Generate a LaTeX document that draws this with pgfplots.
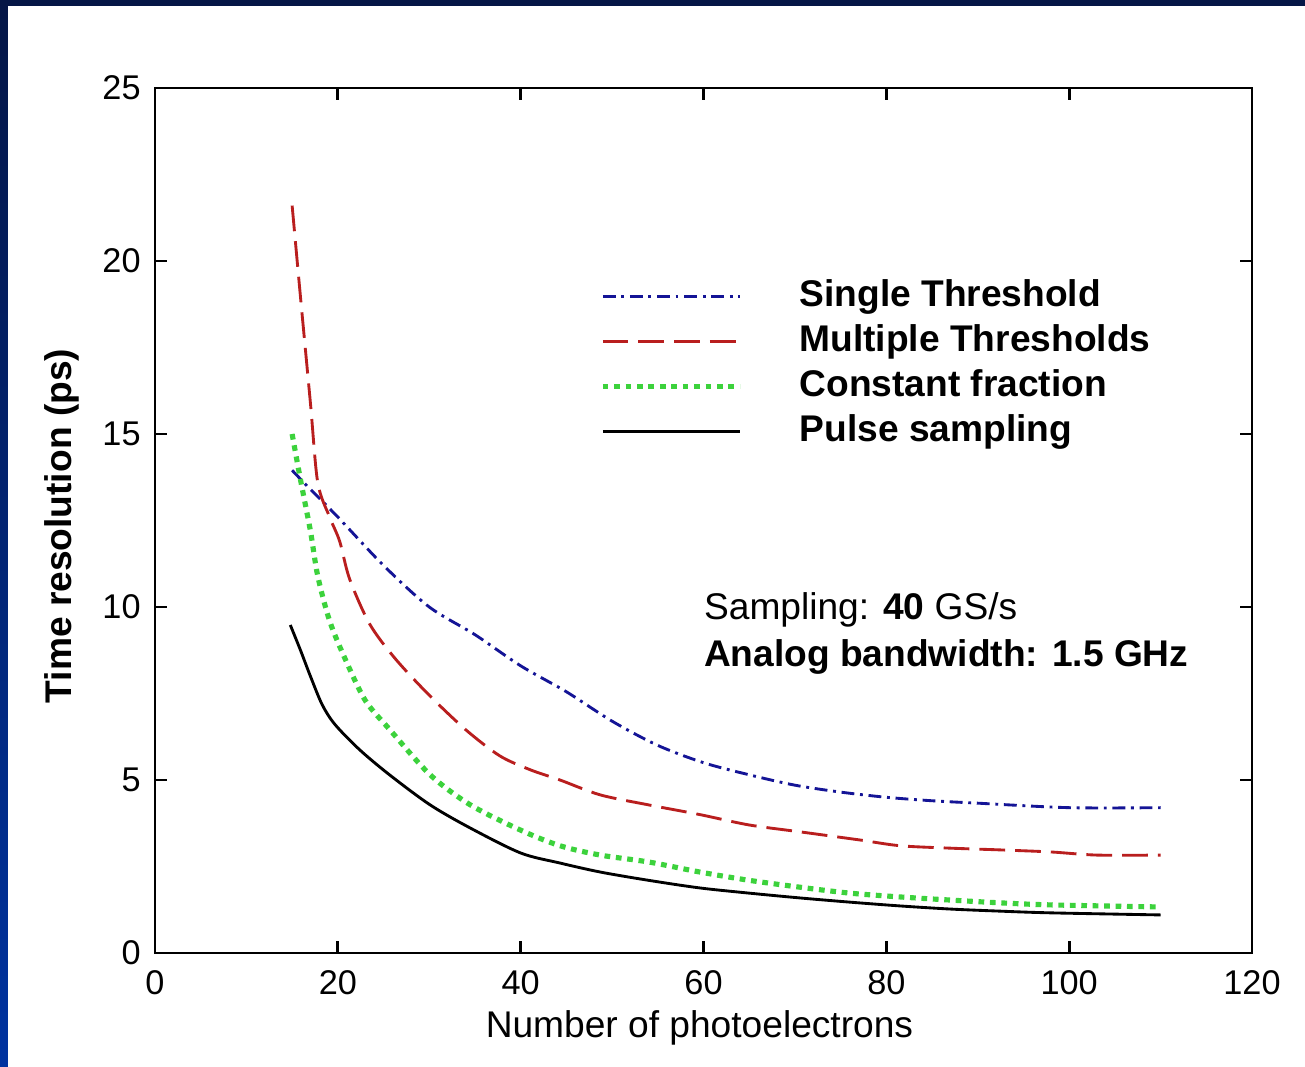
\documentclass[border=0pt]{standalone}
\usepackage{pgfplots}
\pgfplotsset{compat=1.18}
\usepackage{fontspec}
\setmainfont{Liberation Sans}
\definecolor{stblue}{RGB}{20,20,150}
\definecolor{mtred}{RGB}{185,30,30}
\definecolor{cfgreen}{RGB}{60,210,60}
\definecolor{navytop}{RGB}{5,22,70}
\definecolor{bluebot}{RGB}{0,51,160}
\begin{document}
\begin{tikzpicture}
\shade[top color=navytop, bottom color=bluebot] (-54.25pt,-39.9pt) rectangle (402.5pt,333.55pt);
\fill[white] (-51.45pt,-39.9pt) rectangle (402.5pt,331.45pt);
\begin{axis}[
  at={(0pt,0pt)}, anchor=south west, scale only axis,
  width=383.95pt, height=302.75pt,
  xmin=0, xmax=120, ymin=0, ymax=25,
  xtick={0,20,...,120}, ytick={0,5,...,25},
  tick pos=both, tick align=inside,
  major tick length=4.2pt,
  every tick/.style={black, line width=1pt},
  axis line style={line width=1pt},
  /pgf/number format/assume math mode=true,
  ticklabel style={font=\fontsize{12}{14}\selectfont},
  xticklabel style={yshift=-2.5pt},
  yticklabel style={xshift=-1.5pt},
  xlabel={Number of photoelectrons},
  ylabel={\bfseries Time resolution (ps)},
  label style={font=\fontsize{13}{15}\selectfont},
  x label style={at={(axis description cs:0.4963,-0.0867)}, anchor=center},
  y label style={at={(axis description cs:-0.0848,0.4936)}, anchor=center, rotate=0},
  legend cell align=left,
  legend image code/.code={\draw[#1] (0pt,0pt) -- (48pt,0pt);},
  legend style={at={(axis cs:47.7,19.66)}, anchor=north west, draw=none, fill=none,
    font=\bfseries\fontsize{13}{15}\selectfont,
    nodes={inner sep=0pt, text height=9.5pt, text depth=2.5pt},
    row sep=3.75pt,
    /tikz/every odd column/.append style={column sep=20pt}},
]
\addplot[stblue, line width=1pt, dash pattern=on 4.5pt off 2pt on 1pt off 2pt, smooth] coordinates {
(15,13.95) (17,13.4) (20,12.6) (25,11.2) (30,10.0) (35,9.2) (40,8.3) (45,7.55) (50,6.7) (55,6.0) (60,5.5) (65,5.15) (70,4.85) (75,4.65) (80,4.5) (85,4.4) (90,4.33) (100,4.2) (110,4.2)};
\addlegendentry{Single Threshold}
\addplot[mtred, line width=1pt, dash pattern=on 9pt off 3.5pt, smooth] coordinates {
(15,21.6) (15.9,19.0) (17,15.9) (17.8,13.6) (19.1,12.6) (20.2,11.9) (21.3,10.8) (23.5,9.5) (26.3,8.5) (30,7.45) (34,6.45) (37.7,5.7) (41,5.3) (44.3,5.0) (48.7,4.57) (54,4.28) (59.6,4.0) (65,3.7) (70.6,3.5) (77,3.27) (81.5,3.1) (87,3.03) (92.4,2.98) (98,2.92) (103,2.83) (110,2.83)};
\addlegendentry{Multiple Thresholds}
\addplot[cfgreen, line width=1.8pt, dash pattern=on 2pt off 2pt, smooth] coordinates {
(15,15.0) (15.9,13.7) (17,12.2) (17.8,10.9) (19.1,9.6) (20.8,8.5) (23,7.3) (25.7,6.45) (30.1,5.15) (34.5,4.28) (40,3.55) (44.3,3.1) (48.7,2.83) (54,2.63) (59.6,2.34) (65,2.1) (70.6,1.9) (76,1.73) (81.5,1.62) (87,1.53) (92.4,1.45) (98,1.39) (110,1.33)};
\addlegendentry{Constant fraction}
\addplot[black, line width=1pt, smooth] coordinates {
(14.8,9.48) (15.9,8.76) (17,8.0) (18.3,7.17) (19.7,6.6) (22.4,5.87) (25.7,5.14) (30.1,4.28) (34.5,3.61) (40,2.89) (44.3,2.6) (48.7,2.34) (54,2.1) (59.6,1.88) (65,1.73) (70.6,1.59) (76,1.47) (81.5,1.36) (87,1.27) (92.4,1.21) (98,1.16) (110,1.1)};
\addlegendentry{Pulse sampling}
\node[anchor=west, inner sep=0pt, font=\fontsize{13}{15}\selectfont] at (axis cs:60,9.91) {Sampling: \textbf{40} GS/s};
\node[anchor=west, inner sep=0pt, font=\bfseries\fontsize{13}{15}\selectfont] at (axis cs:60,8.55) {Analog bandwidth: 1.5 GHz};
\end{axis}
\end{tikzpicture}
\end{document}
